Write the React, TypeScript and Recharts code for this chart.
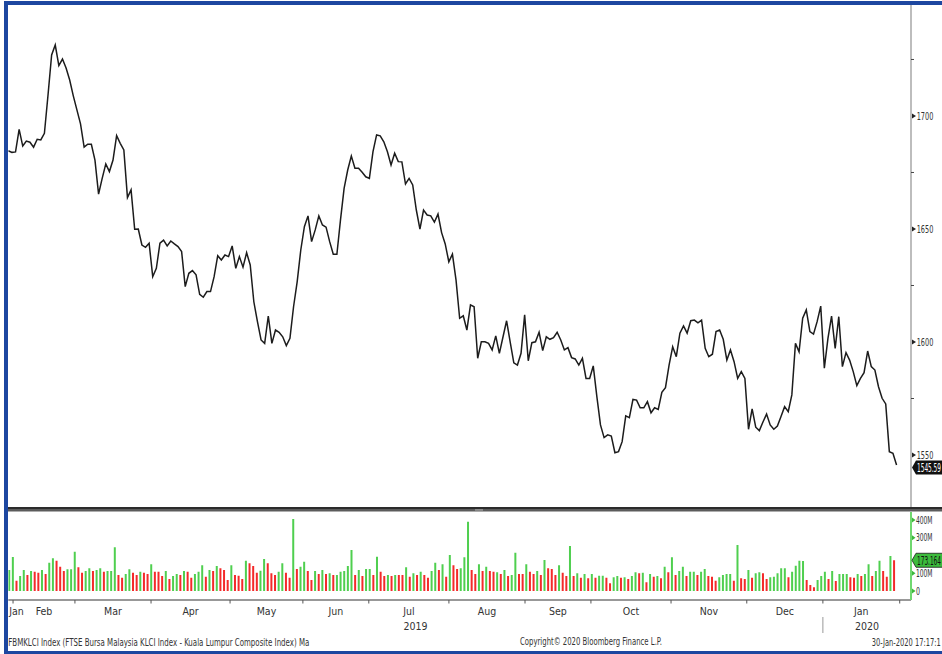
import React from 'react';
import { LineChart, Line, BarChart, Bar, Cell, XAxis, YAxis } from 'recharts';

const FONT = "'Liberation Sans Narrow', 'DejaVu Sans Condensed', 'Arial Narrow', sans-serif";

// FBMKLCI daily close (30-Jan-2019 .. 30-Jan-2020)
const closes = [
  1684.6, 1683.9, 1684.1, 1694.1, 1686.7, 1688.9, 1688.4, 1686.2, 1689.7, 1689.4,
  1692.3, 1709.3, 1727.0, 1731.4, 1722.3, 1725.2, 1721.2, 1715.9, 1708.9, 1702.7,
  1696.5, 1686.2, 1687.5, 1687.5, 1680.5, 1665.4, 1672.4, 1678.8, 1675.4, 1680.5,
  1691.3, 1687.9, 1685.0, 1663.9, 1667.3, 1649.9, 1650.0, 1642.9, 1641.9, 1643.7,
  1628.9, 1632.6, 1643.7, 1645.1, 1642.5, 1644.7, 1643.4, 1642.2, 1640.0, 1624.5,
  1630.4, 1631.6, 1629.7, 1621.1, 1619.8, 1622.3, 1622.3, 1628.9, 1638.2, 1636.3,
  1638.5, 1637.8, 1642.5, 1632.6, 1637.8, 1633.1, 1639.5, 1634.1, 1617.8, 1609.0,
  1600.9, 1599.4, 1611.5, 1599.4, 1605.3, 1604.3, 1602.3, 1598.4, 1601.6, 1615.6,
  1626.6, 1640.7, 1651.0, 1655.8, 1644.4, 1649.6, 1655.8, 1651.8, 1650.8, 1644.4,
  1638.8, 1638.8, 1654.0, 1668.0, 1676.1, 1682.3, 1676.9, 1676.9, 1675.1, 1673.1,
  1672.4, 1684.2, 1691.6, 1691.2, 1688.6, 1684.2, 1678.3, 1683.5, 1679.8, 1679.7,
  1669.9, 1672.4, 1669.5, 1658.4, 1649.9, 1658.4, 1656.2, 1655.8, 1653.0, 1656.6,
  1648.4, 1643.4, 1635.5, 1638.9, 1627.4, 1610.5, 1611.6, 1605.3, 1616.4, 1615.6,
  1592.8, 1600.1, 1600.1, 1599.4, 1596.5, 1602.7, 1595.0, 1602.2, 1609.4, 1600.0,
  1590.8, 1589.8, 1595.0, 1612.0, 1591.7, 1599.7, 1600.1, 1604.3, 1596.2,
  1602.3, 1601.2, 1601.9, 1604.3, 1600.9, 1596.5, 1597.5, 1593.1, 1592.5, 1589.8,
  1592.8, 1583.9, 1583.9, 1589.4, 1575.8, 1563.3, 1557.7, 1558.9, 1558.4, 1551.0,
  1551.5, 1555.9, 1567.3, 1566.5, 1574.6, 1574.3, 1570.9, 1570.9, 1573.6, 1568.7,
  1570.9, 1570.2, 1577.7, 1579.8, 1589.8, 1597.9, 1593.5, 1603.9, 1607.1, 1603.9,
  1609.4, 1609.7, 1608.5, 1609.7, 1597.2, 1593.5, 1594.6, 1604.6, 1605.3, 1601.2,
  1592.0, 1596.5, 1591.3, 1583.9, 1586.9, 1583.9, 1561.4, 1570.4, 1562.3, 1560.8,
  1564.6, 1568.1, 1563.3, 1561.4, 1562.8, 1567.0, 1571.4, 1569.2, 1576.6, 1599.4,
  1595.7, 1610.5, 1614.2, 1604.6, 1603.5, 1609.0, 1615.9, 1588.4, 1601.6, 1611.5,
  1597.2, 1611.2, 1589.1, 1595.3, 1592.0, 1586.9, 1580.7, 1583.9, 1586.4, 1596.0,
  1589.1, 1587.6, 1580.2, 1575.1, 1572.6, 1551.5, 1550.8, 1545.59,
];

// Daily volume, millions of shares
const volumes = [
  118.3, 191.6, 58.0, 84.5, 118.3, 90.1, 112.7, 108.7, 103.1, 118.3,
  95.8, 159.4, 184.2, 170.7, 136.9, 112.7, 122.3, 122.3, 221.4, 133.5,
  103.1, 112.7, 127.9, 112.7, 118.3, 127.9, 108.7, 112.7, 112.7, 246.2,
  90.1, 74.9, 95.8, 122.3, 103.1, 90.1, 108.7, 103.1, 95.8, 150.4,
  108.7, 108.7, 84.5, 112.7, 67.6, 84.5, 95.8, 90.1, 112.7, 108.7,
  74.9, 95.8, 108.7, 144.8, 80.6, 118.3, 112.7, 140.9, 127.9, 118.3,
  62.0, 144.8, 90.1, 86.2, 67.6, 170.7, 156.1, 140.9, 103.1, 114.4,
  180.3, 156.1, 99.7, 90.1, 108.7, 156.1, 103.1, 74.9, 405.6, 123.9,
  136.9, 165.1, 112.7, 62.0, 112.7, 95.8, 118.3, 95.8, 99.7, 90.1,
  90.1, 108.7, 112.7, 140.9, 231.0, 90.1, 118.3, 84.5, 123.9, 123.9,
  90.1, 193.2, 108.7, 84.5, 90.1, 84.5, 90.1, 90.1, 90.1, 133.5,
  80.6, 99.7, 90.1, 108.7, 90.1, 74.9, 112.7, 159.4, 118.3, 150.4,
  80.6, 202.8, 144.8, 123.9, 127.9, 189.9, 390.4, 118.3, 95.8, 150.4,
  112.7, 136.9, 112.7, 108.7, 105.4, 95.8, 118.3, 84.5, 90.1, 215.8,
  95.8, 95.8, 150.4, 108.7, 95.8, 112.7, 90.1, 174.7, 127.9, 123.9,
  90.1, 144.8, 103.1, 84.5, 253.5, 84.5, 99.7, 74.9, 95.8, 71.6,
  95.8, 74.9, 86.2, 86.2, 74.9, 43.4, 77.2, 84.5, 74.9, 77.2,
  67.6, 84.5, 105.4, 99.7, 103.1, 49.0, 95.8, 80.6, 84.5, 71.6,
  136.9, 105.4, 189.9, 90.1, 112.7, 136.9, 84.5, 108.7, 108.7, 90.1,
  108.7, 123.9, 84.5, 80.6, 58.0, 77.2, 90.1, 95.8, 95.8, 58.0,
  259.2, 71.6, 67.6, 118.3, 74.9, 99.7, 105.4, 99.7, 67.6, 77.2,
  80.6, 99.7, 127.9, 127.9, 77.2, 108.7, 142.5, 170.7, 169.0, 62.0,
  33.8, 20.8, 62.0, 84.5, 108.7, 67.6, 112.7, 56.3, 95.8, 95.8,
  95.8, 77.2, 74.9, 95.8, 84.5, 95.8, 150.4, 84.5, 112.7, 170.7,
  112.7, 80.6, 197.2, 173.2,
];

// G = up day (green), R = down day (red)
const volumeDirection = [
  'GGRGGRGRRG', 'RGGRRRGGGR', 'RGGRGGRGGG', 'RRGGRRGRRG', 'RRRGRGGRGR',
  'RGGGRGRGRR', 'RGRRRGRRRG', 'GRRRGGRRGR', 'GGRRGRGRGR', 'GGGGGRGRGG',
  'RGRRGRGRRG', 'RGRGRRGGRG', 'RGRRGGGRRG', 'RGRRGRGRGG', 'RRGRRGRGRR',
  'RGRRGRGRGR', 'GRGGRRGGRG', 'RGGRGRGRGR', 'GRGRGGRGGR', 'GGRRRGGGGR',
  'GRRGRGGRRG', 'GGGGRGGGGR', 'RRGGGRGRGG', 'GRRGRGGRGG', 'RRGR',
].join('').split('');

const priceMajorTicks = [1550, 1600, 1650, 1700];
const priceMinorTicks = [1575, 1625, 1675, 1725];
const priceDomain = [1527, 1749.1];
const lastClose = 1545.59;

// 200M tick sits behind the last-volume tag in the reference
const volumeTicks = [0, 100, 300, 400];
const volumeTickLabels = ['0', '100M', '300M', '400M'];
const volumeDomain = [-50.7, 445.1];
const lastVolume = 173.164;

const monthNames = ['Jan', 'Feb', 'Mar', 'Apr', 'May', 'Jun', 'Jul', 'Aug', 'Sep', 'Oct', 'Nov', 'Dec', 'Jan'];
// end of each labelled month, in trading-day (bar) index units
const monthEnds = [1.1, 18.1, 39.0, 60.7, 80.7, 98.8, 120.8, 141.7, 159.8, 181.8, 202.6, 223.5, 244.6];
const yearNames = ['2019', '2020'];

const footerLeft = 'FBMKLCI Index (FTSE Bursa Malaysia KLCI Index - Kuala Lumpur Composite Index) Ma';
const footerMid = 'Copyright\u00A9 2020 Bloomberg Finance L.P.';
const footerRight = '30-Jan-2020 17:17:1';

const priceXDomain = [0, 250];
const volXDomain = [-0.2, 247.7];

const GREEN = '#4fcf4f';
const RED = '#f42a2a';
const BLUE = '#1d47a0';

const priceData = closes.map((c, i) => ({ t: i, close: c }));
const volumeData = volumes.map((v, i) => ({ t: i, volume: v, dir: volumeDirection[i] }));

type XT = { kind: 'edge' | 'month' | 'year'; text?: string; sep?: boolean };
const xTickInfo = new Map<number, XT>();
monthEnds.forEach((e, i) => xTickInfo.set(e, { kind: 'edge', sep: i === 11 }));
monthNames.forEach((m, i) => {
  const start = i === 0 ? volXDomain[0] : monthEnds[i - 1];
  xTickInfo.set((start + monthEnds[i]) / 2, { kind: 'month', text: m });
});
xTickInfo.set((volXDomain[0] + monthEnds[11]) / 2, { kind: 'year', text: yearNames[0] });
xTickInfo.set((monthEnds[11] + volXDomain[1]) / 2, { kind: 'year', text: yearNames[1] });
const volXTicks = Array.from(xTickInfo.keys());

const txt = { fontFamily: FONT, fill: '#333' } as const;

const PriceTick = (props: any) => {
  const { x, y, payload } = props;
  const v = payload.value;
  if (v === lastClose) {
    const cy = y + 2.5;
    return (
      <g>
        <path d={`M${x + 1},${cy} L${x + 5},${cy - 7} L${x + 40},${cy - 7} L${x + 40},${cy + 7} L${x + 5},${cy + 7} Z`} fill="#111" />
        <text x={x + 6} y={cy + 4.6} fontSize={12.5} fontFamily={FONT} fill="#fff" textLength={24} lengthAdjust="spacingAndGlyphs">
          {v.toFixed(2)}
        </text>
      </g>
    );
  }
  if (priceMinorTicks.includes(v)) {
    return <line x1={x} x2={x + 3} y1={y} y2={y} stroke="#444" strokeWidth={1} />;
  }
  return (
    <g>
      <polygon points={`${x + 1},${y - 2.5} ${x + 5},${y} ${x + 1},${y + 2.5}`} fill="#222" />
      <text x={x + 5.7} y={y + 3.7} fontSize={10.5} {...txt} textLength={16.6} lengthAdjust="spacingAndGlyphs">
        {v}
      </text>
    </g>
  );
};

const VolumeTick = (props: any) => {
  const { x, y, payload } = props;
  const v = payload.value;
  if (v === lastVolume) {
    return (
      <g>
        <path d={`M${x + 1},${y} L${x + 5},${y - 7} L${x + 40},${y - 7} L${x + 40},${y + 7} L${x + 5},${y + 7} Z`} fill="#3cbc3c" stroke="#1a1a1a" strokeWidth={0.8} />
        <text x={x + 6} y={y + 4.5} fontSize={12} fontFamily={FONT} fill="#111" textLength={24} lengthAdjust="spacingAndGlyphs">
          {v.toFixed(3)}
        </text>
      </g>
    );
  }
  const label = volumeTickLabels[volumeTicks.indexOf(v)];
  return (
    <g>
      <polygon points={`${x + 1},${y - 2.5} ${x + 4.5},${y} ${x + 1},${y + 2.5}`} fill="#3cb83c" />
      <text x={x + 5} y={y + 3.5} fontSize={10} {...txt} textLength={label.length === 1 ? 4 : 16.5} lengthAdjust="spacingAndGlyphs">
        {label}
      </text>
    </g>
  );
};

const VolXTick = (props: any) => {
  const { x, y, payload } = props;
  const info = xTickInfo.get(payload.value);
  if (!info) return <g />;
  if (info.kind === 'edge') {
    return (
      <g>
        <line x1={x} x2={x} y1={y} y2={y + 3.5} stroke="#555" strokeWidth={1} />
        {info.sep ? <line x1={x} x2={x} y1={y + 17} y2={y + 33} stroke="#999" strokeWidth={1} /> : null}
      </g>
    );
  }
  if (info.kind === 'month') {
    return (
      <text x={Math.max(x, 16.5)} y={y + 15} textAnchor="middle" fontSize={10.5} {...txt}>
        {info.text}
      </text>
    );
  }
  return (
    <text x={x} y={y + 29.5} textAnchor="middle" fontSize={10.5} {...txt}>
      {info.text}
    </text>
  );
};

export default function App() {
  return (
    <div style={{ position: 'absolute', left: 0, top: 0, width: 942, height: 654, background: '#fff', overflow: 'hidden' }}>
      <div style={{ position: 'absolute', left: 0, top: 0 }}>
        <LineChart width={942} height={507} data={priceData} margin={{ top: 5, right: 0, bottom: 0, left: 8.3 }}>
          <XAxis dataKey="t" type="number" domain={priceXDomain} allowDataOverflow hide />
          <YAxis
            orientation="right"
            width={31}
            type="number"
            domain={priceDomain}
            allowDataOverflow
            ticks={[...priceMinorTicks, ...priceMajorTicks, lastClose]}
            interval={0}
            tickLine={false}
            tickSize={0}
            tickMargin={0}
            axisLine={{ stroke: '#bdbdbd', strokeWidth: 2 }}
            tick={(p: any) => <PriceTick {...p} />}
          />
          <Line type="linear" dataKey="close" stroke="#1c1c1c" strokeWidth={1.5} dot={false} isAnimationActive={false} />
        </LineChart>
      </div>
      <div style={{ position: 'absolute', left: 0, top: 507 }}>
        <BarChart width={942} height={147} data={volumeData} margin={{ top: 5, right: 0, bottom: 0, left: 8.3 }}>
          <XAxis
            dataKey="t"
            type="number"
            domain={volXDomain}
            allowDataOverflow
            height={54}
            ticks={volXTicks}
            interval={0}
            tickLine={false}
            tickSize={0}
            tickMargin={0}
            axisLine={{ stroke: '#333', strokeWidth: 1 }}
            tick={(p: any) => <VolXTick {...p} />}
          />
          <YAxis
            orientation="right"
            width={31}
            type="number"
            domain={volumeDomain}
            allowDataOverflow
            ticks={[...volumeTicks, lastVolume]}
            interval={0}
            tickLine={false}
            tickSize={0}
            tickMargin={0}
            axisLine={{ stroke: '#6fd86f', strokeWidth: 2 }}
            tick={(p: any) => <VolumeTick {...p} />}
          />
          <Bar dataKey="volume" barSize={2} isAnimationActive={false}>
            {volumeData.map((d, i) => (
              <Cell key={i} fill={d.dir === 'G' ? GREEN : RED} />
            ))}
          </Bar>
        </BarChart>
      </div>
      <svg width={942} height={654} style={{ position: 'absolute', left: 0, top: 0, pointerEvents: 'none' }}>
        <rect x={8} y={507} width={934} height={2} fill="#2b2b2b" />
        <rect x={8} y={509} width={934} height={2.5} fill="#5c5c5c" />
        <line x1={475} x2={483} y1={509.6} y2={509.6} stroke="#aaa" strokeWidth={0.7} />
        <line x1={475} x2={483} y1={510.8} y2={510.8} stroke="#aaa" strokeWidth={0.7} />
        <text x={8.3} y={645.5} fontSize={10} {...txt} textLength={301} lengthAdjust="spacingAndGlyphs">{footerLeft}</text>
        <text x={520} y={645} fontSize={10} {...txt} textLength={142} lengthAdjust="spacingAndGlyphs">{footerMid}</text>
        <text x={871.7} y={645.5} fontSize={10} {...txt} textLength={69} lengthAdjust="spacingAndGlyphs">{footerRight}</text>
        <rect x={4} y={1} width={938} height={4} fill={BLUE} />
        <rect x={4} y={1} width={4} height={653} fill={BLUE} />
        <rect x={4} y={651} width={938} height={3} fill={BLUE} />
      </svg>
    </div>
  );
}
